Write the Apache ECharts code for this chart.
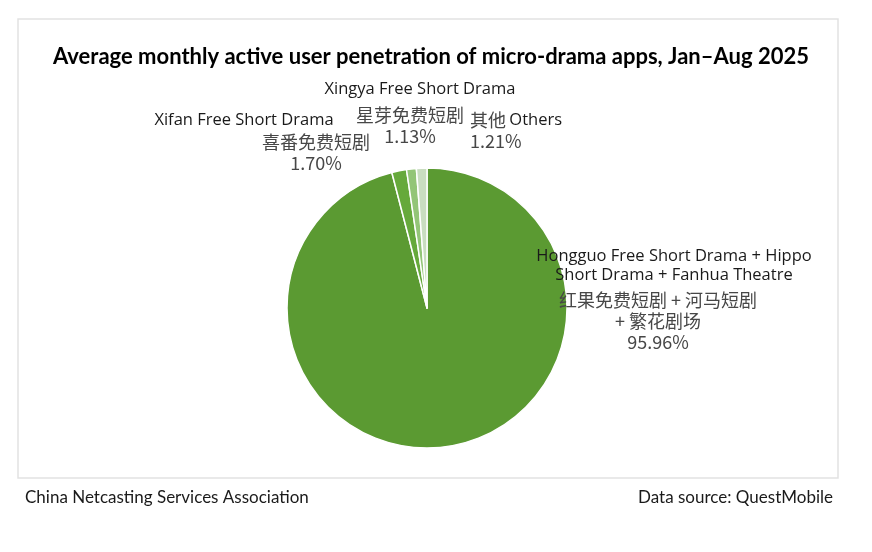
<!DOCTYPE html>
<html>
<head>
<meta charset="utf-8">
<title>Micro-drama apps MAU penetration</title>
<script src="https://cdn.jsdelivr.net/npm/echarts@6/dist/echarts.min.js"></script>
<style>
  html, body { margin: 0; padding: 0; background: #fff; }
  #chart { width: 872px; height: 552px; }
</style>
</head>
<body>
<div id="chart"></div>
<script>
// data
var cnNames = ['红果免费短剧 + 河马短剧\n+ 繁花剧场', '喜番免费短剧', '星芽免费短剧', '其他'];
var enNames = ['Hongguo Free Short Drama + Hippo\nShort Drama + Fanhua Theatre', 'Xifan Free Short Drama', 'Xingya Free Short Drama', 'Others'];
var shares = [95.96, 1.70, 1.13, 1.21];
var sliceColors = ['#5b9a32', '#66a93b', '#93c577', '#c9ddc0'];

// label anchors (px): [x, y, align]
var cnLabelPos = [[658, 321, 'center'], [316, 153, 'center'], [410, 126, 'center'], [470, 131, 'left']];
var enLabelPos = [[674, 266, 'center'], [244, 120, 'center'], [420, 89, 'center'], [0, 0, 'center']];

var myChart = echarts.init(document.getElementById('chart'));

var pieData = shares.map(function (v, i) {
  return { value: v, name: cnNames[i], itemStyle: { color: sliceColors[i] } };
});

function layoutFrom(pos) {
  return function (params) {
    var p = pos[params.dataIndex];
    return { x: p[0], y: p[1], align: p[2], verticalAlign: 'middle' };
  };
}

var option = {
  backgroundColor: '#fff',
  animation: false,
  title: [{
    text: 'Average monthly active user penetration of micro-drama apps, Jan\u2013Aug 2025',
    left: 48,
    top: 41,
    textStyle: { fontFamily: 'Lato', fontWeight: 'bold', fontSize: 22, color: '#000' }
  }, {
    text: 'China Netcasting Services Association',
    left: 20,
    top: 484,
    textStyle: { fontFamily: 'Lato', fontWeight: 'normal', fontSize: 17, color: '#1a1a1a' }
  }, {
    text: 'Data source: QuestMobile',
    right: 34,
    top: 484,
    textStyle: { fontFamily: 'Lato', fontWeight: 'normal', fontSize: 17, color: '#1a1a1a' }
  }],
  graphic: [{
    type: 'rect',
    shape: { x: 18, y: 19, width: 820, height: 459 },
    style: { fill: 'none', stroke: '#e2e2e2', lineWidth: 1.5 },
    z: -1
  }],
  series: [{
    // slices + Chinese name and share
    type: 'pie',
    center: [427, 308],
    radius: 140,
    startAngle: 90,
    clockwise: true,
    data: pieData,
    itemStyle: { borderColor: '#fff', borderWidth: 1.5 },
    labelLine: { show: false },
    label: {
      show: true,
      formatter: function (p) {
        var i = p.dataIndex;
        var first = '{cn|' + cnNames[i] + '}';
        if (i === 3) first += ' {en|' + enNames[i] + '}';
        return first + '\n{cn|' + shares[i].toFixed(2) + '%}';
      },
      rich: {
        cn: { fontFamily: 'Noto Sans CJK SC', fontSize: 18, color: '#474747', lineHeight: 21 },
        en: { fontFamily: 'Open Sans', fontSize: 16.5, color: '#1a1a1a', lineHeight: 21 }
      }
    },
    labelLayout: layoutFrom(cnLabelPos),
    emphasis: { disabled: true }
  }, {
    // transparent copy carrying the English names
    type: 'pie',
    center: [427, 308],
    radius: 140,
    startAngle: 90,
    clockwise: true,
    silent: true,
    data: pieData.map(function (d, i) {
      return { value: d.value, name: enNames[i], itemStyle: { color: 'rgba(0,0,0,0)' } };
    }),
    labelLine: { show: false },
    label: {
      show: true,
      formatter: function (p) {
        return p.dataIndex === 3 ? '' : enNames[p.dataIndex];
      },
      fontFamily: 'Open Sans',
      fontSize: 16.5,
      color: '#1a1a1a',
      lineHeight: 19
    },
    labelLayout: layoutFrom(enLabelPos),
    emphasis: { disabled: true }
  }]
};

myChart.setOption(option);
</script>
</body>
</html>
